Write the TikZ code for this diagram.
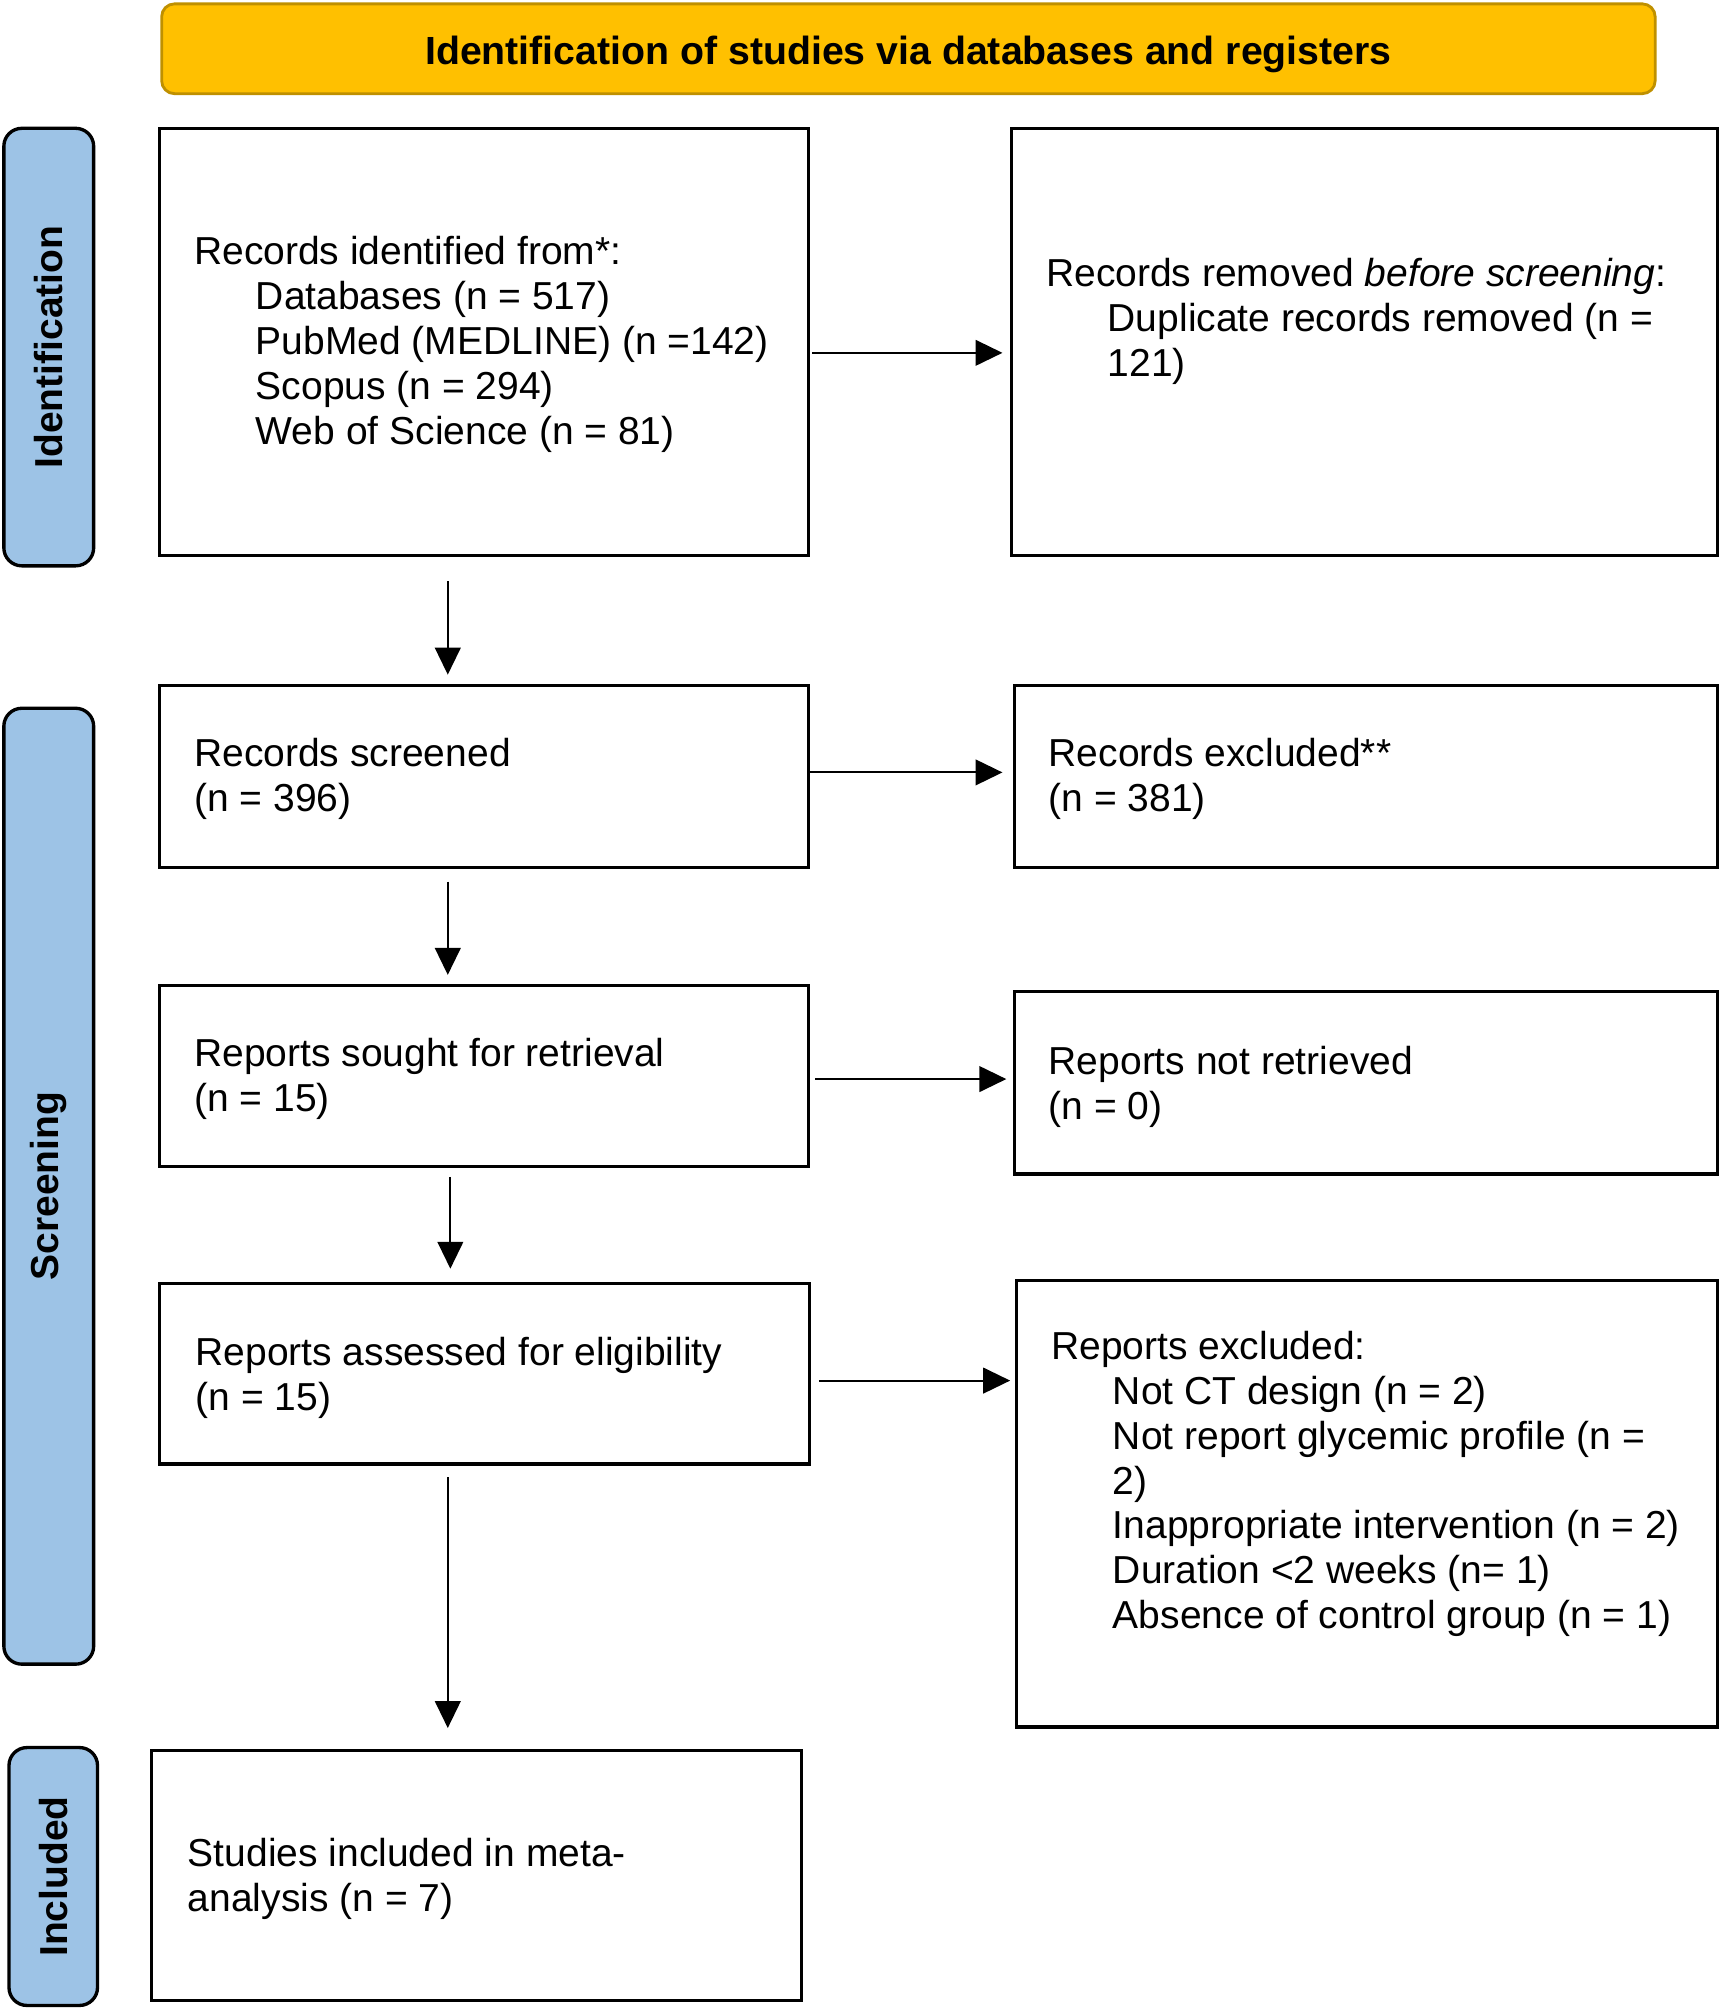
\documentclass[tikz,border=0pt]{standalone}
\usepackage{fontspec}
\setmainfont{Liberation Sans}
\usetikzlibrary{arrows.meta}
\definecolor{banfill}{HTML}{FFC000}
\definecolor{bandraw}{HTML}{BF9000}
\definecolor{sidefill}{HTML}{9DC3E6}
\begin{document}
\begin{tikzpicture}[x=0.5pt,y=-0.5pt,
  box/.style={draw=black, line width=1.2pt, inner sep=0pt},
  txt/.style={anchor=north west, inner sep=0pt, align=left, font=\fontsize{15.2}{17.5}\selectfont},
  side/.style={draw=black, fill=sidefill, line width=1.3pt, rounded corners=7pt, inner sep=0pt,
    font=\fontsize{15.2}{17.5}\selectfont\bfseries},
  arr/.style={line width=0.8pt, -{Triangle[length=10.5pt,width=10pt]}}
]
\useasboundingbox (0,0) rectangle (1341,1565);
% banner
\node[draw=bandraw, fill=banfill, line width=1.1pt, rounded corners=5pt, minimum width=582pt, minimum height=35pt,
  text height=13pt, text depth=1pt,
  font=\fontsize{15.3}{17.5}\selectfont\bfseries] (ban) at (708,38) {Identification of studies via databases and registers};
% side labels
\node[side, minimum width=35pt, minimum height=170.5pt] (s1) at (38,270.5) {\rotatebox{90}{Identification}};
\node[side, minimum width=35pt, minimum height=372.5pt] (s2) at (38,924.5) {\rotatebox{90}{Screening}};
\node[side, minimum width=34.5pt, minimum height=100.5pt] (s3) at (41.5,1462.5) {\rotatebox{90}{Included}};
% boxes
\node[box, minimum width=253pt, minimum height=166.5pt] (b1) at (377,266.5) {};
\node[box, minimum width=275pt, minimum height=166.5pt] (b2) at (1063.5,266.5) {};
\node[box, minimum width=253pt, minimum height=71pt] (b3) at (377,605) {};
\node[box, minimum width=274pt, minimum height=71pt] (b4) at (1064.5,605) {};
\node[box, minimum width=253pt, minimum height=70.5pt] (b5) at (377,838.5) {};
\node[box, minimum width=274pt, minimum height=71pt] (b6) at (1064.5,844) {};
\node[box, minimum width=253.5pt, minimum height=70.5pt] (b7) at (377.5,1070.5) {};
\node[box, minimum width=273pt, minimum height=174pt] (b8) at (1065.5,1172) {};
\node[box, minimum width=253.5pt, minimum height=97.5pt] (b9) at (371.5,1461.5) {};
% texts
\node[txt] (t1) at (151,184) {Records identified from*:\\
\hspace*{24pt}Databases (n = 517)\\
\hspace*{24pt}PubMed (MEDLINE) (n =142)\\
\hspace*{24pt}Scopus (n = 294)\\
\hspace*{24pt}Web of Science (n = 81)};
\node[txt] (t2) at (815,201) {Records removed \textit{before screening}:\\
\hspace*{24pt}Duplicate records removed (n =\\
\hspace*{24pt}121)};
\node[txt] (t3) at (151,575) {Records screened\\(n = 396)};
\node[txt] (t4) at (817,575) {Records excluded**\\(n = 381)};
\node[txt] (t5) at (151,809) {Reports sought for retrieval\\(n = 15)};
\node[txt] (t6) at (817,815) {Reports not retrieved\\(n = 0)};
\node[txt] (t7) at (152,1042) {Reports assessed for eligibility\\(n = 15)};
\node[txt] (t8) at (819,1037) {Reports excluded:\\
\hspace*{24pt}Not CT design (n = 2)\\
\hspace*{24pt}Not report glycemic profile (n =\\
\hspace*{24pt}2)\\
\hspace*{24pt}Inappropriate intervention (n = 2)\\
\hspace*{24pt}Duration <2 weeks (n= 1)\\
\hspace*{24pt}Absence of control group (n = 1)};
\node[txt] (t9) at (146,1432) {Studies included in meta-\\analysis (n = 7)};
% horizontal arrows
\draw[arr, shorten <=1pt, shorten >=3pt] ([yshift=-4.25pt]b1.east) -- ([yshift=-4.25pt]b1.east -| b2.west);
\draw[arr, shorten >=4pt] ([yshift=1.5pt]b3.east) -- ([yshift=1.5pt]b3.east -| b4.west);
\draw[arr, shorten <=2pt, shorten >=2.5pt] ([yshift=-1.25pt]b5.east) -- ([yshift=-1.25pt]b5.east -| b6.west);
\draw[arr, shorten <=3pt, shorten >=2pt] ([yshift=-2.75pt]b7.east) -- ([yshift=-2.75pt]b7.east -| b8.west);
% vertical arrows
\draw[arr, shorten <=9.5pt, shorten >=3.5pt] ([xshift=-14pt]b1.south) -- ([xshift=-14pt]b1.south |- b3.north);
\draw[arr, shorten <=5pt, shorten >=3.5pt] ([xshift=-14pt]b3.south) -- ([xshift=-14pt]b3.south |- b5.north);
\draw[arr, shorten <=3.5pt, shorten >=5pt] ([xshift=-13pt]b5.south) -- ([xshift=-13pt]b5.south |- b7.north);
\draw[arr, shorten <=4.5pt, shorten >=8pt] ([xshift=-14.25pt]b7.south) -- ([xshift=-14.25pt]b7.south |- b9.north);
\end{tikzpicture}
\end{document}
